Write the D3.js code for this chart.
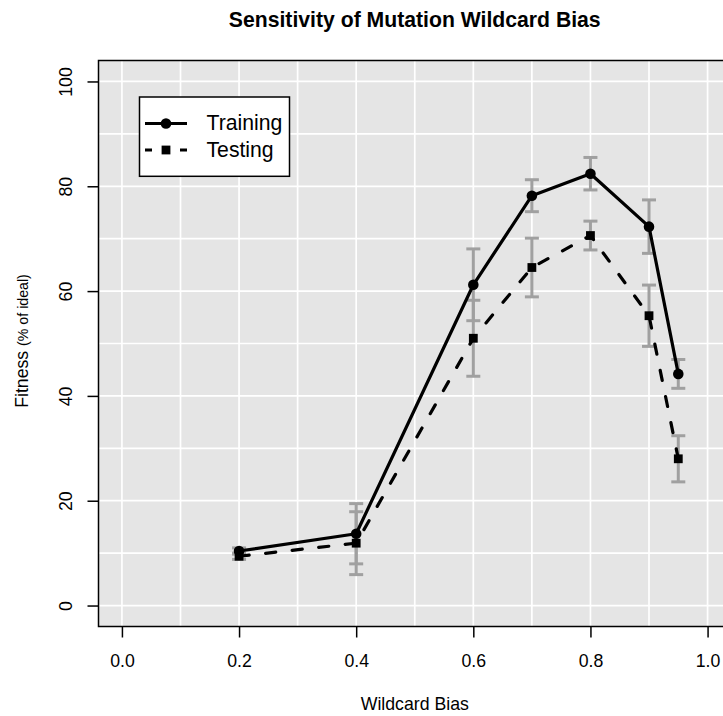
<!DOCTYPE html>
<html><head><meta charset="utf-8">
<script src="https://cdn.jsdelivr.net/npm/d3@7/dist/d3.min.js"></script>
<style>body{margin:0;background:#fff} svg{display:block}</style>
</head><body><svg id="c" width="723" height="716"></svg>
<script>
// ---- data ----
const biasLevels   = [0.2, 0.4, 0.6, 0.7, 0.8, 0.9, 0.95];
const trainingMean = [10.4, 13.7, 61.2, 78.2, 82.4, 72.3, 44.2];
const trainingErr  = [0.6, 5.75, 6.85, 3.05, 3.1, 5.1, 2.75];
const testingMean  = [9.4, 11.9, 51.0, 64.5, 70.6, 55.3, 28.0];
const testingErr   = [0.6, 6.0, 7.25, 5.6, 2.75, 5.85, 4.4];
const xTicks = [0, 0.2, 0.4, 0.6, 0.8, 1.0];
const yTicks = [0, 20, 40, 60, 80, 100];
const xGrid = [0, 0.1, 0.2, 0.3, 0.4, 0.5, 0.6, 0.7, 0.8, 0.9, 1.0];
const yGrid = [0, 10, 20, 30, 40, 50, 60, 70, 80, 90, 100];
const seriesNames = ["Training", "Testing"];
const titleText = "Sensitivity of Mutation Wildcard Bias";
const xLabel = "Wildcard Bias";

const FONT = "'Liberation Sans', Arial, Helvetica, sans-serif";
const svg = d3.select("#c");
const L = 98.5, R = 731, T = 60.5, B = 626.5;
const x = d3.scaleLinear().domain([-0.04, 1.04]).range([L, R]);
const y = d3.scaleLinear().domain([-4, 104]).range([B, T]);

// background
svg.append("rect").attr("x", L).attr("y", T).attr("width", R - L).attr("height", B - T).attr("fill", "#e5e5e5");
// grid
const g = svg.append("g").attr("stroke", "#fff").attr("stroke-width", 1.7);
g.selectAll(".vx").data(xGrid).enter().append("line")
  .attr("x1", d => x(d)).attr("x2", d => x(d)).attr("y1", T).attr("y2", B);
g.selectAll(".hy").data(yGrid).enter().append("line")
  .attr("y1", d => y(d)).attr("y2", d => y(d)).attr("x1", L).attr("x2", R);

const series = [
  {name: seriesNames[0], mean: trainingMean, err: trainingErr, dash: null, legDash: null, shape: "circle"},
  {name: seriesNames[1], mean: testingMean, err: testingErr, dash: "10.2,16.5", legDash: "7,10.5", shape: "square"}
];

// error bars
const eb = svg.append("g").attr("stroke", "#a0a0a0").attr("stroke-width", 3).attr("fill", "none");
series.forEach(s => {
  biasLevels.forEach((b, i) => {
    const xc = x(b), yt = y(s.mean[i] + s.err[i]), yb = y(s.mean[i] - s.err[i]);
    eb.append("line").attr("x1", xc).attr("x2", xc).attr("y1", yt).attr("y2", yb);
    eb.append("line").attr("x1", xc - 7).attr("x2", xc + 7).attr("y1", yt).attr("y2", yt);
    eb.append("line").attr("x1", xc - 7).attr("x2", xc + 7).attr("y1", yb).attr("y2", yb);
  });
});

// lines
series.forEach(s => {
  const line = d3.line().x((d, i) => x(biasLevels[i])).y(d => y(d));
  svg.append("path").datum(s.mean).attr("d", line)
    .attr("fill", "none").attr("stroke", "#000").attr("stroke-width", 3.2)
    .attr("stroke-linecap", "round").attr("stroke-linejoin", "round")
    .attr("stroke-dasharray", s.dash);
});
// points
series.forEach(s => {
  s.mean.forEach((v, i) => {
    if (s.shape === "circle") {
      svg.append("circle").attr("cx", x(biasLevels[i])).attr("cy", y(v)).attr("r", 5.3).attr("fill", "#000");
    } else {
      svg.append("rect").attr("x", x(biasLevels[i]) - 4.4).attr("y", y(v) - 4.4)
        .attr("width", 8.8).attr("height", 8.8).attr("fill", "#000");
    }
  });
});

// frame
svg.append("rect").attr("x", L).attr("y", T).attr("width", R - L).attr("height", B - T)
  .attr("fill", "none").attr("stroke", "#000").attr("stroke-width", 1.5);

// x axis
const xa = svg.append("g").attr("transform", `translate(0,${B})`)
  .call(d3.axisBottom(x).tickValues(xTicks).tickFormat(d3.format(".1f")).tickSize(11).tickPadding(0));
xa.select(".domain").remove();
xa.selectAll(".tick line").attr("stroke", "#000").attr("stroke-width", 1.5);
xa.selectAll(".tick text").attr("font-family", FONT).attr("font-size", 17.7).attr("fill", "#000")
  .attr("dy", null).attr("y", 40.5);

// y axis (rotated labels)
const ya = svg.append("g").attr("transform", `translate(${L},0)`)
  .call(d3.axisLeft(y).tickValues(yTicks).tickSize(11));
ya.select(".domain").remove();
ya.selectAll(".tick line").attr("stroke", "#000").attr("stroke-width", 1.5);
ya.selectAll(".tick text").attr("font-family", FONT).attr("font-size", 17.7).attr("fill", "#000")
  .attr("x", null).attr("dy", null).attr("text-anchor", "middle")
  .attr("transform", "translate(-26.5,0) rotate(-90)");

// title
svg.append("text").attr("x", (L + R) / 2).attr("y", 27).attr("text-anchor", "middle")
  .attr("font-family", FONT).attr("font-weight", "bold").attr("font-size", 21.2).text(titleText);
// x label
svg.append("text").attr("x", (L + R) / 2).attr("y", 710).attr("text-anchor", "middle")
  .attr("font-family", FONT).attr("font-size", 17.7).text(xLabel);
// y label
const yl = svg.append("text").attr("transform", `translate(28,341) rotate(-90)`).attr("text-anchor", "middle")
  .attr("font-family", FONT).attr("font-size", 17.7);
yl.append("tspan").text("Fitness ");
yl.append("tspan").attr("font-size", 14.2).text(" (% of ideal)");

// legend
const lg = svg.append("g");
lg.append("rect").attr("x", 139.5).attr("y", 97).attr("width", 150).attr("height", 79.3)
  .attr("fill", "#fff").attr("stroke", "#000").attr("stroke-width", 1.5);
const rowsY = [123.5, 150];
series.forEach((s, i) => {
  const ry = rowsY[i];
  lg.append("line").attr("x1", 145).attr("x2", 187).attr("y1", ry).attr("y2", ry)
    .attr("stroke", "#000").attr("stroke-width", 3.2).attr("stroke-dasharray", s.legDash);
  if (s.shape === "circle") lg.append("circle").attr("cx", 166).attr("cy", ry).attr("r", 5.3);
  else lg.append("rect").attr("x", 166 - 4.4).attr("y", ry - 4.4).attr("width", 8.8).attr("height", 8.8);
  lg.append("text").attr("x", 206.5).attr("y", ry + 6.8).attr("font-family", FONT).attr("font-size", 21.2).text(s.name);
});
</script></body></html>
